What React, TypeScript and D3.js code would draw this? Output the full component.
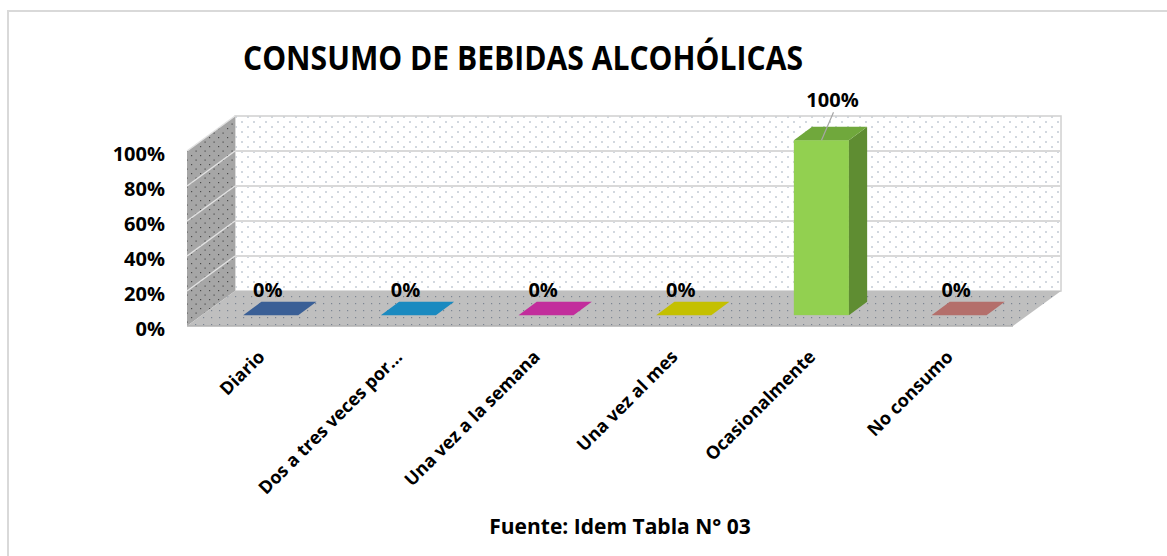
import React from 'react';
import * as d3 from 'd3';

const categories = ['Diario', 'Dos a tres veces por…', 'Una vez a la semana', 'Una vez al mes', 'Ocasionalmente', 'No consumo'];
const values = [0, 0, 0, 0, 100, 0];
const yTicks = [0, 20, 40, 60, 80, 100];
const frontColors = ['#3d639b', '#1b8fc4', '#c92fa3', '#c9c500', '#92d050', '#ba736f'];
const sideColors = ['#2c4a75', '#136c95', '#971f7a', '#979400', '#5f8d32', '#8c5350'];
const topColors = ['#3a5f96', '#1a8ac0', '#c22d9c', '#c4c000', '#70a83c', '#b46f6b'];

const W = 1167, H = 556;
// 3D frame: front plane and the depth offset to the back wall
const x0 = 187, x1 = 1013, yBase = 326, yTop = 151;
const DX = 48, DY = -35;
const t0 = 0.31, t1 = 0.69; // bar depth, as fraction of the floor depth

const x = d3.scaleBand<string>().domain(categories).range([x0, x1]).paddingInner(0.6).paddingOuter(0.3);
const y = d3.scaleLinear().domain([0, 100]).range([yBase, yTop]);

const pts = (p: number[][]) => p.map(d => d.join(',')).join(' ');
const font = "'Open Sans', sans-serif";

export default function App() {
  const bw = x.bandwidth();
  return (
    <svg width={W} height={H} style={{ position: 'absolute', left: 0, top: 0, background: '#fff' }}>
      <defs>
        <pattern id="wall" width="12" height="10" patternUnits="userSpaceOnUse">
          <rect width="12" height="10" fill="#fff" />
          <circle cx="2" cy="2" r="0.8" fill="#9aa6b8" />
          <circle cx="8" cy="7" r="0.8" fill="#9aa6b8" />
        </pattern>
        <pattern id="floor" width="8" height="7" patternUnits="userSpaceOnUse">
          <rect width="8" height="7" fill="#bfbfbf" />
          <rect x="3" y="2" width="1.2" height="1.2" fill="#7c8592" />
        </pattern>
        <pattern id="side" width="9" height="9" patternUnits="userSpaceOnUse">
          <rect width="9" height="9" fill="#a6a6a6" />
          <rect x="2" y="2" width="1.2" height="1.2" fill="#4a4a4a" />
          <rect x="6.5" y="6.5" width="1.2" height="1.2" fill="#4a4a4a" />
        </pattern>
      </defs>

      {/* outer chart border */}
      <path d={`M8,${H} V11 H${W}`} fill="none" stroke="#d9d9d9" strokeWidth={2} />

      <text x={243} y={70} fontFamily={font} fontWeight="bold" fontSize={34} textLength={560} lengthAdjust="spacingAndGlyphs">CONSUMO DE BEBIDAS ALCOHÓLICAS</text>

      {/* back wall */}
      <rect x={x0 + DX} y={yTop + DY} width={x1 - x0} height={yBase - yTop} fill="url(#wall)" stroke="#d0d0d0" strokeWidth={1.5} />
      {yTicks.slice(1, -1).map(v => (
        <line key={v} x1={x0 + DX} x2={x1 + DX} y1={y(v) + DY} y2={y(v) + DY} stroke="#d9d9d9" strokeWidth={2} />
      ))}
      {/* side wall */}
      <polygon points={pts([[x0, yBase], [x0, yTop], [x0 + DX, yTop + DY], [x0 + DX, yBase + DY]])} fill="url(#side)" />
      {yTicks.slice(1).map(v => (
        <line key={v} x1={x0} x2={x0 + DX} y1={y(v)} y2={y(v) + DY} stroke="#e2e2e2" strokeWidth={1.5} />
      ))}
      {/* floor */}
      <polygon points={pts([[x0, yBase], [x1, yBase], [x1 + DX, yBase + DY], [x0 + DX, yBase + DY]])} fill="url(#floor)" />
      <line x1={x0} x2={x1} y1={yBase} y2={yBase} stroke="#b0b0b0" strokeWidth={1.5} />

      {/* y labels */}
      {yTicks.map(v => (
        <text key={v} x={165} y={y(v) + 10} textAnchor="end" fontFamily={font} fontWeight="bold" fontSize={20}>{v}%</text>
      ))}

      {/* bars */}
      {categories.map((c, i) => {
        const bx = (x(c) as number) + DX * t0;
        const by = yBase + DY * t0;
        const ty = y(values[i]) + DY * t0;
        const ddx = DX * (t1 - t0), ddy = DY * (t1 - t0);
        const top = [[bx, ty], [bx + bw, ty], [bx + bw + ddx, ty + ddy], [bx + ddx, ty + ddy]];
        return (
          <g key={c}>
            {values[i] > 0 && (
              <>
                <rect x={bx} y={ty} width={bw} height={by - ty} fill={frontColors[i]} />
                <polygon points={pts([[bx + bw, by], [bx + bw, ty], [bx + bw + ddx, ty + ddy], [bx + bw + ddx, by + ddy]])} fill={sideColors[i]} />
              </>
            )}
            <polygon points={pts(top)} fill={topColors[i]} />
          </g>
        );
      })}

      {/* data labels */}
      {categories.map((c, i) => {
        const cx = (x(c) as number) + bw / 2;
        const ty = y(values[i]) + DY * t0;
        if (values[i] > 0) {
          return (
            <g key={c}>
              <line x1={cx + 27} y1={ty - 28} x2={cx + 15} y2={ty} stroke="#a6a6a6" strokeWidth={1.2} />
              <text x={cx + 26} y={ty - 33} textAnchor="middle" fontFamily={font} fontWeight="bold" fontSize={20}>{values[i]}%</text>
            </g>
          );
        }
        return (
          <text key={c} x={cx + 12} y={ty - 18} textAnchor="middle" fontFamily={font} fontWeight="bold" fontSize={20}>{values[i]}%</text>
        );
      })}

      {/* x labels */}
      {categories.map(c => {
        const cx = (x(c) as number) + bw / 2;
        return (
          <text key={c} transform={`translate(${cx + 10},${358}) rotate(-45)`} textAnchor="end" fontFamily={font} fontWeight="bold" fontSize={18}>{c}</text>
        );
      })}

      <text x={620} y={534} textAnchor="middle" fontFamily={font} fontWeight="bold" fontSize={21}>Fuente: Idem Tabla N° 03</text>
    </svg>
  );
}
